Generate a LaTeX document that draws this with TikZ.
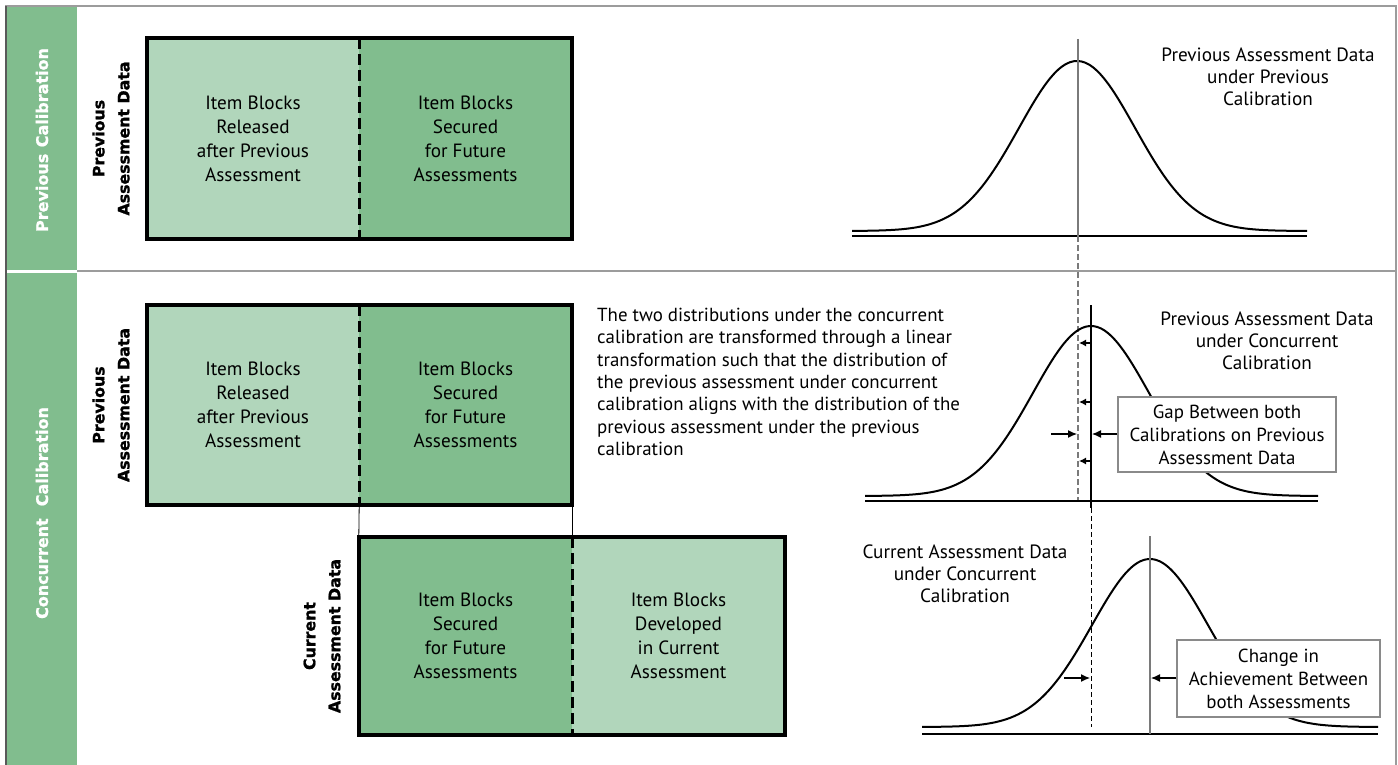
\documentclass[tikz,border=0pt]{standalone}
\usepackage{fontspec}
\setmainfont{PT Sans}
\newfontfamily\labfont{DejaVu Sans}[BoldFeatures={FakeBold=1.2}]
\usetikzlibrary{arrows.meta}
\definecolor{lightgreen}{HTML}{B1D6BB}
\definecolor{darkgreen}{HTML}{81BD8E}
\definecolor{framegray}{HTML}{9C9C9C}
\definecolor{boxgray}{HTML}{8A8A8A}
\definecolor{axisgray}{HTML}{7A7A7A}

\begin{document}
\begin{tikzpicture}[x=1pt,y=-1pt,
  cell/.style={minimum width=#1, inner sep=0pt, align=center,
    font=\fontsize{19.2}{24}\selectfont},
  lightcell/.style={cell=#1, fill=lightgreen},
  darkcell/.style={cell=#1, fill=darkgreen},
  blockframe/.style={line width=4pt},
  blockdivider/.style={line width=3pt, dash pattern=on 11pt off 5pt},
  sidelabel/.style={rotate=90, align=center, inner sep=0pt,
    font=\labfont\bfseries\fontsize{15.8}{25}\selectfont},
  striplabel/.style={rotate=90, inner sep=0pt, text=white,
    font=\labfont\bfseries\fontsize{16}{20}\selectfont},
  plaintext/.style={align=center, inner sep=0pt, font=\fontsize{19.2}{22}\selectfont},
  calloutbox/.style={draw=boxgray, line width=1.3pt, fill=white, align=center,
    inner sep=0pt, font=\fontsize{18.9}{23}\selectfont},
  bellcurve/.style={line width=2pt, smooth},
  axisline/.style={line width=2pt},
  meanline/.style={line width=1.3pt},
  shiftarrow/.style={line width=1.2pt, -{Latex[length=9pt,width=8pt]}},
  smallshiftarrow/.style={line width=1.2pt, -{Latex[length=7pt,width=7pt]}},
]
\useasboundingbox (0,0) rectangle (1398,765);

% side strip and frame
\fill[darkgreen] (7,7) rectangle (77,765);
\draw[white, line width=3pt] (7,271) -- (77,271);
\draw[framegray, line width=1.5pt] (77,271) -- (1396,271);
\draw[framegray, line width=1.5pt] (6,765) -- (6,6) -- (1396,6) -- (1396,765);
\draw[black!65, line width=1.5pt] (6,765) -- (6,6);
\node[striplabel] (prevcal) at (42,140) {Previous\hspace{0.4em}Calibration};
\node[striplabel] (conccal) at (42,513) {Concurrent\hspace{0.75em}Calibration};

% previous assessment data, previous calibration
\node[lightcell=212pt, minimum height=201pt] (a1) at (253,138.5)
  {Item Blocks\\Released\\after Previous\\Assessment};
\node[darkcell=213pt, minimum height=201pt] (a2) at (465.5,138.5)
  {Item Blocks\\Secured\\for Future\\Assessments};
\draw[blockdivider] (a1.north east) -- (a1.south east);
\draw[blockframe] (a1.north west) rectangle (a2.south east);
\node[sidelabel] (lab1) at (111,138.5) {Previous\\Assessment Data};

% previous assessment data, concurrent calibration
\node[lightcell=212pt, minimum height=200pt] (b1) at (253,405)
  {Item Blocks\\Released\\after Previous\\Assessment};
\node[darkcell=213pt, minimum height=200pt] (b2) at (465.5,405)
  {Item Blocks\\Secured\\for Future\\Assessments};
\draw[blockdivider] (b1.north east) -- (b1.south east);
\draw[blockframe] (b1.north west) rectangle (b2.south east);
\node[sidelabel] (lab2) at (111,405) {Previous\\Assessment Data};

% current assessment data
\node[darkcell=213pt, minimum height=198pt] (c1) at (465.5,636)
  {Item Blocks\\Secured\\for Future\\Assessments};
\node[lightcell=213pt, minimum height=198pt] (c2) at (678.5,636)
  {Item Blocks\\Developed\\in Current\\Assessment};
\draw[blockdivider] (c1.north east) -- (c1.south east);
\draw[blockframe] (c1.north west) rectangle (c2.south east);
\node[sidelabel] (lab3) at (322,636) {Current\\Assessment Data};

% shared blocks link
\draw[line width=0.8pt] (b1.south east) -- (c1.north west);
\draw[line width=0.8pt] (b2.south east) -- (c1.north east);

% explanation
\node[anchor=west, align=left, inner sep=0pt, font=\fontsize{18.9}{22.3}\selectfont]
  (para) at (597,382)
  {The two distributions under the concurrent\\
   calibration are transformed through a linear\\
   transformation such that the distribution of\\
   the previous assessment under concurrent\\
   calibration aligns with the distribution of the\\
   previous assessment under the previous\\
   calibration};

% distribution 1: previous data, previous calibration
\draw[bellcurve] plot[domain=852:1307, samples=120]
  (\x, {231-170*exp(-0.5*((\x-1077)/58)*((\x-1077)/58))});
\draw[axisline] (852,236) -- (1307,236);
\coordinate (m1top) at (1078,39);
\coordinate (m1bot) at (1078,236);
\draw[meanline, axisgray] (m1top) -- (m1bot);
\node[plaintext] (t1) at (1268,77) {Previous Assessment Data\\under Previous\\Calibration};

% distribution 2: previous data, concurrent calibration
\coordinate (m2dash) at (1078,502);
\draw[meanline, axisgray, dash pattern=on 6pt off 3pt] (m1bot) -- (m2dash);
\draw[bellcurve] plot[domain=865:1318, samples=120]
  (\x, {496-170*exp(-0.5*((\x-1091)/58)*((\x-1091)/58))});
\draw[axisline] (865,501) -- (1318,501);
\coordinate (m2top) at (1091,305);
\coordinate (m2bot) at (1091,508);
\draw[meanline] (m2top) -- (m2bot);
\node[plaintext] (t2) at (1267,341) {Previous Assessment Data\\under Concurrent\\Calibration};
\node[calloutbox, minimum width=218pt, minimum height=75pt] (gap) at (1227,434.5)
  {Gap Between both\\Calibrations on Previous\\Assessment Data};
\foreach \yy/\nm in {343/s1, 402/s2, 461/s3} {
  \coordinate (\nm a) at (1091,\yy);
  \coordinate (\nm b) at (1079,\yy);
  \draw[smallshiftarrow] (\nm a) -- (\nm b);
}
\coordinate (g1) at (1051,434);
\coordinate (g2) at (1077,434);
\coordinate (g3) at (1092,434);
\draw[shiftarrow] (g1) -- (g2);
\draw[shiftarrow] (gap.west |- g3) -- (g3);

% distribution 3: current data, concurrent calibration
\draw[bellcurve] plot[domain=922:1378, samples=120]
  (\x, {727-168*exp(-0.5*((\x-1150)/58)*((\x-1150)/58))});
\draw[axisline] (922,734) -- (1378,734);
\coordinate (m3dtop) at (1091,508);
\coordinate (m3dbot) at (1091,727);
\draw[line width=1pt, dash pattern=on 5pt off 3pt] (m3dtop) -- (m3dbot);
\coordinate (m3top) at (1150,536);
\coordinate (m3bot) at (1150,734);
\draw[meanline, axisgray] (m3top) -- (m3bot);
\node[plaintext] (t3) at (965,574) {Current Assessment Data\\under Concurrent\\Calibration};
\node[calloutbox, minimum width=203pt, minimum height=77pt] (chg) at (1278.5,678.5)
  {Change in\\Achievement Between\\both Assessments};
\coordinate (h1) at (1064,678);
\coordinate (h2) at (1090,678);
\coordinate (h3) at (1151,678);
\draw[shiftarrow] (h1) -- (h2);
\draw[shiftarrow] (chg.west |- h3) -- (h3);
\end{tikzpicture}
\end{document}
